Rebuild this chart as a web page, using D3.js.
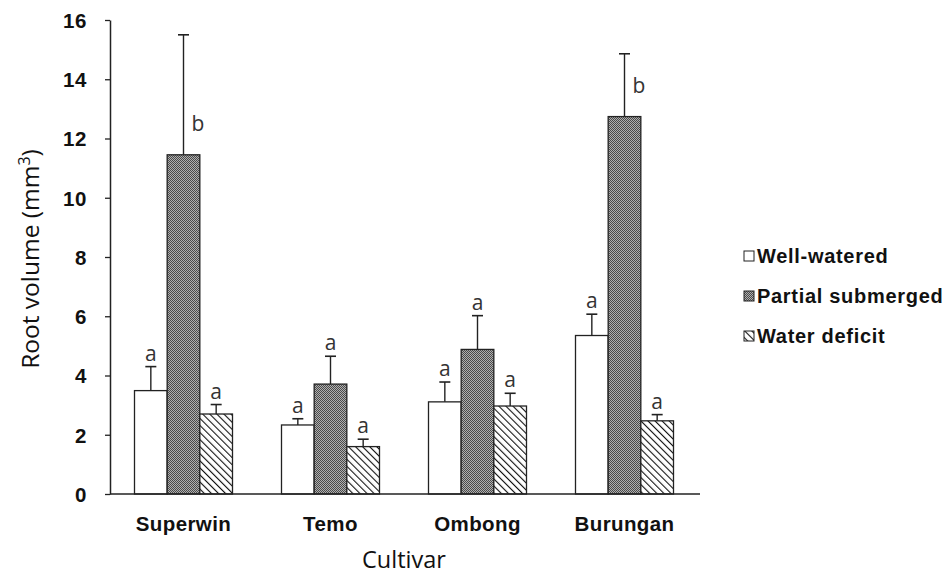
<!DOCTYPE html>
<html>
<head>
<meta charset="utf-8">
<script src="https://cdn.jsdelivr.net/npm/d3@7"></script>
<style>
  html, body { margin: 0; padding: 0; background: #fff; }
  svg { display: block; }
</style>
</head>
<body>
<svg id="chart" width="948" height="576"></svg>
<script>
// Root volume by cultivar and watering treatment (mean + SE)
const categories = ["Superwin", "Temo", "Ombong", "Burungan"];
const seriesNames = ["Well-watered", "Partial submerged", "Water deficit"];

const wellWatered   = [3.49, 2.33, 3.11, 5.35];
const wellWateredSE = [0.81, 0.21, 0.67, 0.72];
const partialSub    = [11.45, 3.71, 4.88, 12.74];
const partialSubSE  = [4.05, 0.94, 1.14, 2.12];
const waterDeficit  = [2.70, 1.60, 2.97, 2.47];
const waterDeficitSE= [0.32, 0.25, 0.43, 0.21];

const lettersWW = ["a", "a", "a", "a"];
const lettersPS = ["b", "a", "a", "b"];
const lettersWD = ["a", "a", "a", "a"];

const yTicks = [0, 2, 4, 6, 8, 10, 12, 14, 16];

const series = [
  { name: seriesNames[0], values: wellWatered, se: wellWateredSE, letters: lettersWW, fill: "#ffffff" },
  { name: seriesNames[1], values: partialSub, se: partialSubSE, letters: lettersPS, fill: "url(#checker)" },
  { name: seriesNames[2], values: waterDeficit, se: waterDeficitSE, letters: lettersWD, fill: "url(#hatch)" }
];

const svg = d3.select("#chart");

// fill patterns
const defs = svg.append("defs");
const checker = defs.append("pattern").attr("id", "checker")
  .attr("patternUnits", "userSpaceOnUse").attr("width", 2).attr("height", 2);
checker.append("rect").attr("width", 2).attr("height", 2).attr("fill", "#b0b0b0");
checker.append("rect").attr("width", 1).attr("height", 1).attr("fill", "#4a4a4a");
checker.append("rect").attr("x", 1).attr("y", 1).attr("width", 1).attr("height", 1).attr("fill", "#4a4a4a");

const hatch = defs.append("pattern").attr("id", "hatch")
  .attr("patternUnits", "userSpaceOnUse").attr("width", 5).attr("height", 5)
  .attr("patternTransform", "rotate(-45)");
hatch.append("rect").attr("width", 5).attr("height", 5).attr("fill", "#fff");
hatch.append("line").attr("x1", 0).attr("y1", 0).attr("x2", 0).attr("y2", 5)
  .attr("stroke", "#111").attr("stroke-width", 2.2);

const x0 = d3.scaleBand().domain(categories).range([110, 698])
  .paddingInner(1 / 3).paddingOuter(1 / 6);
const x1 = d3.scaleBand().domain(seriesNames).range([0, x0.bandwidth()]);
const y = d3.scaleLinear().domain([0, 16]).range([494, 20]);

// bars
const groups = svg.append("g").selectAll("g")
  .data(series).join("g");

groups.selectAll("rect")
  .data(s => s.values.map((v, i) => ({ s, v, i })))
  .join("rect")
  .attr("x", d => x0(categories[d.i]) + x1(d.s.name))
  .attr("y", d => y(d.v))
  .attr("width", x1.bandwidth())
  .attr("height", d => y(0) - y(d.v))
  .attr("fill", d => d.s.fill)
  .attr("stroke", "#222")
  .attr("stroke-width", 1.3);

// error bars (upper only)
const errs = groups.selectAll("g.err")
  .data(s => s.values.map((v, i) => ({ s, v, e: s.se[i], i, letter: s.letters[i] })))
  .join("g").attr("class", "err")
  .attr("transform", d => `translate(${x0(categories[d.i]) + x1(d.s.name) + x1.bandwidth() / 2},0)`);

errs.append("line")
  .attr("x1", 0).attr("x2", 0)
  .attr("y1", d => y(d.v)).attr("y2", d => y(d.v + d.e))
  .attr("stroke", "#222").attr("stroke-width", 1.4);
errs.append("line")
  .attr("x1", -5.5).attr("x2", 5.5)
  .attr("y1", d => y(d.v + d.e)).attr("y2", d => y(d.v + d.e))
  .attr("stroke", "#222").attr("stroke-width", 1.6);

// significance letters
errs.append("text")
  .attr("x", d => d.letter === "b" ? 8 : 0)
  .attr("y", d => d.letter === "b" ? y(d.v) - 24 : y(d.v + d.e) - 6)
  .attr("text-anchor", d => d.letter === "b" ? "start" : "middle")
  .attr("font-family", "'Open Sans', sans-serif")
  .attr("font-size", 21)
  .attr("fill", "#333")
  .text(d => d.letter);

// y axis
const yAxis = svg.append("g").attr("transform", "translate(110,0)")
  .call(d3.axisLeft(y).tickValues(yTicks).tickSize(5).tickSizeOuter(0).tickPadding(18).tickFormat(d3.format("d")));
yAxis.select(".domain").attr("stroke", "#222").attr("stroke-width", 1.5);
yAxis.selectAll(".tick line").attr("stroke", "#222").attr("stroke-width", 1.3);
yAxis.selectAll(".tick text")
  .attr("font-family", "'Liberation Sans', Arial, sans-serif")
  .attr("font-weight", "bold").attr("font-size", 20.5).attr("fill", "#111")
  .attr("letter-spacing", 0.6)
  .attr("dy", "0.36em");

// x axis baseline
svg.append("line").attr("x1", 110).attr("x2", 700).attr("y1", y(0)).attr("y2", y(0))
  .attr("stroke", "#222").attr("stroke-width", 1.5);

// category labels
svg.append("g").selectAll("text").data(categories).join("text")
  .attr("x", d => x0(d) + x0.bandwidth() / 2)
  .attr("y", 531)
  .attr("text-anchor", "middle")
  .attr("font-family", "'Liberation Sans', Arial, sans-serif")
  .attr("font-weight", "bold").attr("font-size", 20.5).attr("fill", "#111")
  .attr("letter-spacing", 0.4)
  .text(d => d);

// axis titles
svg.append("text")
  .attr("x", 404).attr("y", 568)
  .attr("text-anchor", "middle")
  .attr("font-family", "'Open Sans', sans-serif")
  .attr("font-size", 23.5).attr("fill", "#111")
  .text("Cultivar");

const yTitle = svg.append("text")
  .attr("transform", "translate(39,259) rotate(-90)")
  .attr("text-anchor", "middle")
  .attr("font-family", "'Open Sans', sans-serif")
  .attr("font-size", 24.5).attr("fill", "#111");
yTitle.append("tspan").text("Root volume (mm");
yTitle.append("tspan").attr("dy", -9).attr("font-size", 16).text("3");
yTitle.append("tspan").attr("dy", 9).text(")");

// legend
const legend = svg.append("g").selectAll("g").data(series).join("g")
  .attr("transform", (d, i) => `translate(744,${251 + i * 40})`);
legend.append("rect")
  .attr("width", 10).attr("height", 10)
  .attr("fill", d => d.fill).attr("stroke", "#222").attr("stroke-width", 1);
legend.append("text")
  .attr("x", 13).attr("y", 12)
  .attr("font-family", "'Liberation Sans', Arial, sans-serif")
  .attr("font-weight", "bold").attr("font-size", 20).attr("fill", "#111")
  .attr("letter-spacing", 0.7)
  .text(d => d.name);
</script>
</body>
</html>
